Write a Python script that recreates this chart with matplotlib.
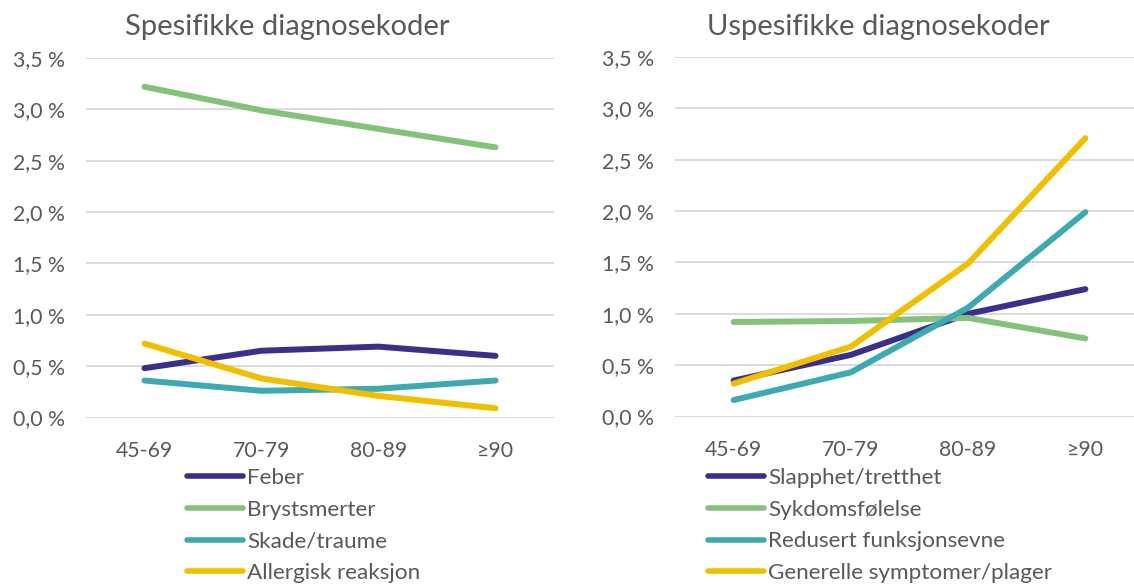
import matplotlib
matplotlib.use("Agg")
import matplotlib.pyplot as plt
from matplotlib.ticker import FuncFormatter, MultipleLocator

# ---- data ----
categories = ["45-69", "70-79", "80-89", "≥90"]

left_title = "Spesifikke diagnosekoder"
left_labels = ["Feber", "Brystsmerter", "Skade/traume", "Allergisk reaksjon"]
feber = [0.48, 0.65, 0.69, 0.60]
brystsmerter = [3.22, 2.99, 2.81, 2.63]
skade_traume = [0.36, 0.26, 0.28, 0.36]
allergisk_reaksjon = [0.72, 0.38, 0.21, 0.09]

right_title = "Uspesifikke diagnosekoder"
right_labels = ["Slapphet/tretthet", "Sykdomsfølelse", "Redusert funksjonsevne",
                "Generelle symptomer/plager"]
slapphet = [0.35, 0.60, 1.00, 1.24]
sykdomsfolelse = [0.92, 0.93, 0.96, 0.76]
redusert_funksjonsevne = [0.16, 0.43, 1.06, 1.99]
generelle_symptomer = [0.32, 0.68, 1.49, 2.71]

y_max = 3.5
y_step = 0.5

# ---- style ----
colors = ["#3B2F8C", "#84C17A", "#3DA9B1", "#F0C000"]
text_color = "#595959"
grid_color = "#D9D9D9"
plt.rcParams["font.family"] = ["Lato", "DejaVu Sans"]

W, H = 1134, 586
fig = plt.figure(figsize=(W / 100, H / 100), dpi=100)

fmt = FuncFormatter(lambda v, p: f"{v:.1f}".replace(".", ",") + " %")


def style_axes(ax, series, labels, legend_x, title, title_x):
    x = range(len(categories))
    for vals, c, lab in zip(series, colors, labels):
        ax.plot(x, vals, color=c, lw=4.3, solid_capstyle="round", label=lab)
    ax.set_xlim(-0.5, len(categories) - 0.5)
    ax.set_ylim(0, y_max)
    ax.yaxis.set_major_locator(MultipleLocator(y_step))
    ax.yaxis.set_major_formatter(fmt)
    ax.set_xticks(list(x))
    ax.set_xticklabels(categories)
    ax.grid(axis="y", color=grid_color, lw=1.3)
    ax.set_axisbelow(True)
    for s in ax.spines.values():
        s.set_visible(False)
    ax.tick_params(axis="both", length=0, labelsize=15.3, colors=text_color)
    ax.tick_params(axis="y", pad=15)
    ax.tick_params(axis="x", pad=17)
    fig.text(title_x / W, 1 - 27 / H, title, ha="center", va="center",
             fontsize=21, color=text_color)
    handles, labs = ax.get_legend_handles_labels()
    leg = fig.legend(handles, labs, loc="upper left",
                     bbox_to_anchor=(legend_x / W, 1 - 468 / H),
                     frameon=False, fontsize=16.2, handlelength=2.5,
                     handletextpad=0.18, labelspacing=0.52, borderpad=0,
                     borderaxespad=0)
    for t in leg.get_texts():
        t.set_color(text_color)
    for l in leg.get_lines():
        l.set_linewidth(4.0)
        l.set_solid_capstyle("round")


ax1 = fig.add_axes([86 / W, 1 - 417.5 / H, 468 / W, (417.5 - 58) / H])
style_axes(ax1, [feber, brystsmerter, skade_traume, allergisk_reaksjon],
           left_labels, 187, left_title, 287)

ax2 = fig.add_axes([675 / W, 1 - 416.5 / H, 469 / W, (416.5 - 57) / H])
style_axes(ax2, [slapphet, sykdomsfolelse, redusert_funksjonsevne, generelle_symptomer],
           right_labels, 708, right_title, 878)

fig.savefig("out.png", dpi=100)
